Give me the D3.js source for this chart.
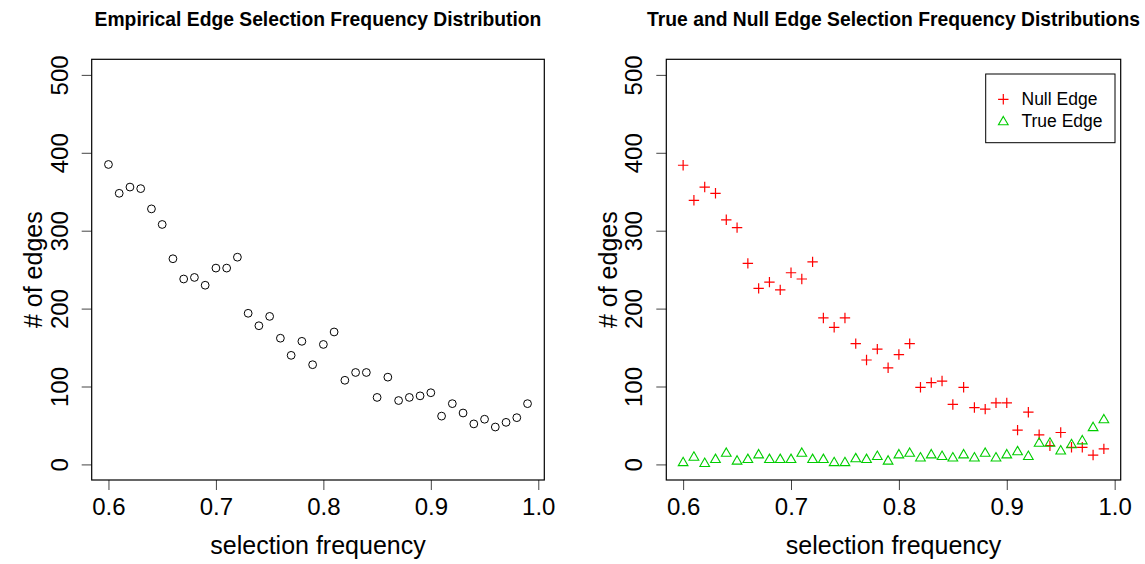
<!DOCTYPE html>
<html><head><meta charset="utf-8">
<script src="https://cdn.jsdelivr.net/npm/d3@7"></script>
<style>
body{margin:0;background:#fff}
svg text{font-family:"Liberation Sans",Arial,Helvetica,sans-serif;fill:#000}
</style>
</head><body>
<svg id="chart" width="1145" height="564"></svg>
<script>
// ---------- data ----------
const freq = [0.60,0.61,0.62,0.63,0.64,0.65,0.66,0.67,0.68,0.69,
              0.70,0.71,0.72,0.73,0.74,0.75,0.76,0.77,0.78,0.79,
              0.80,0.81,0.82,0.83,0.84,0.85,0.86,0.87,0.88,0.89,
              0.90,0.91,0.92,0.93,0.94,0.95,0.96,0.97,0.98,0.99];
const totalEdges = [385,348,356,354,328,308,264,238,240,230,
                    252,252,266,194,178,190,162,140,158,128,
                    154,170,108,118,118,86,112,82,86,88,
                    92,62,78,66,52,58,48,54,60,78];
const nullEdges = [384,339,356,348,314,304,258,226,234,224,
                   246,238,260,188,176,188,155,134,148,124,
                   141,155,99,105,107,77,99,73,71,79,
                   79,44,67,38,24,41,22,22,12,20];
const trueEdges = [2,9,1,6,14,4,6,12,6,6,
                   6,14,6,6,2,2,7,6,10,4,
                   12,14,8,12,10,8,12,8,14,8,
                   12,16,10,27,27,17,25,30,47,57];
const xTicks = [0.6,0.7,0.8,0.9,1.0];
const yTicks = [0,100,200,300,400,500];
const titles = ["Empirical Edge Selection Frequency Distribution",
                "True and Null Edge Selection Frequency Distributions"];
const xLabel = "selection frequency";
const yLabel = "# of edges";
const legendLabels = ["Null Edge","True Edge"];

// ---------- layout ----------
const svg = d3.select("#chart");
svg.append("rect").attr("width",1145).attr("height",564).attr("fill","#fff");
const panels = [{x0:91.7,x1:544.3},{x0:666.3,x1:1120.7}];
const yTop = 59.3, yBot = 480;
const xDomain = [0.6 - 0.39*0.04, 0.99 + 0.39*0.04];
const yDomain = [-20, 520];
const RED = "#FF0000", GREEN = "#00CD00";

function plusPath(r){ return `M${-r},0H${r}M0,${-r}V${r}`; }
function triPath(r){ const h=r*Math.sqrt(3)/2; return `M0,${-r}L${h},${r/2}L${-h},${r/2}Z`; }

panels.forEach((p,i)=>{
  const x = d3.scaleLinear().domain(xDomain).range([p.x0,p.x1]);
  const y = d3.scaleLinear().domain(yDomain).range([yBot,yTop]);
  const g = svg.append("g");

  // title
  g.append("text").attr("x",(p.x0+p.x1)/2).attr("y",26)
   .attr("text-anchor","middle").attr("font-weight","bold").attr("font-size",19.3)
   .text(titles[i]);

  // x axis
  const xa = g.append("g").attr("transform",`translate(0,${yBot})`)
    .call(d3.axisBottom(x).tickValues(xTicks).tickSize(10).tickFormat(d3.format(".1f")));
  xa.select(".domain").remove();
  xa.selectAll(".tick line").attr("stroke","#444");
  xa.selectAll(".tick text").attr("y",35).attr("dy",0).attr("font-size",24)
    .attr("font-family","Liberation Sans, Arial, sans-serif");

  // y axis
  const ya = g.append("g").attr("transform",`translate(${p.x0},0)`)
    .call(d3.axisLeft(y).tickValues(yTicks).tickSize(10));
  ya.select(".domain").remove();
  ya.selectAll(".tick line").attr("stroke","#444");
  ya.selectAll(".tick text").attr("transform","rotate(-90)").attr("x",0).attr("y",-24)
    .attr("dy",0).attr("text-anchor","middle").attr("font-size",24)
    .attr("font-family","Liberation Sans, Arial, sans-serif");

  // axis labels
  g.append("text").attr("x",(p.x0+p.x1)/2).attr("y",554)
   .attr("text-anchor","middle").attr("font-size",25).text(xLabel);
  g.append("text").attr("transform",`translate(${p.x0-49.5},${(yTop+yBot)/2}) rotate(-90)`)
   .attr("text-anchor","middle").attr("font-size",25).text(yLabel);

  // box
  g.append("rect").attr("x",p.x0).attr("y",yTop).attr("width",p.x1-p.x0).attr("height",yBot-yTop)
   .attr("fill","none").attr("stroke","#000").attr("stroke-width",1.2);

  if(i===0){
    g.selectAll("circle.pt").data(freq).join("circle").attr("class","pt")
     .attr("cx",d=>x(d)).attr("cy",(d,k)=>y(totalEdges[k])).attr("r",3.9)
     .attr("fill","none").attr("stroke","#000").attr("stroke-width",1);
  } else {
    g.selectAll("path.nul").data(freq).join("path").attr("class","nul")
     .attr("d",plusPath(5.2)).attr("transform",(d,k)=>`translate(${x(d)},${y(nullEdges[k])})`)
     .attr("fill","none").attr("stroke",RED).attr("stroke-width",1.2);
    g.selectAll("path.tru").data(freq).join("path").attr("class","tru")
     .attr("d",triPath(5.6)).attr("transform",(d,k)=>`translate(${x(d)},${y(trueEdges[k])})`)
     .attr("fill","none").attr("stroke",GREEN).attr("stroke-width",1.1);

    // legend
    const lg = g.append("g");
    lg.append("rect").attr("x",985.7).attr("y",74).attr("width",129.3).attr("height",68.7)
      .attr("fill","#fff").attr("stroke","#000").attr("stroke-width",1);
    lg.append("path").attr("d",plusPath(5.2)).attr("transform","translate(1003.3,99.3)")
      .attr("fill","none").attr("stroke",RED).attr("stroke-width",1.2);
    lg.append("path").attr("d",triPath(5.6)).attr("transform","translate(1003.3,122)")
      .attr("fill","none").attr("stroke",GREEN).attr("stroke-width",1.1);
    lg.append("text").attr("x",1021.5).attr("y",104.5).attr("font-size",17.5).text(legendLabels[0]);
    lg.append("text").attr("x",1021.5).attr("y",127).attr("font-size",17.5).text(legendLabels[1]);
  }
});
</script>
</body></html>
